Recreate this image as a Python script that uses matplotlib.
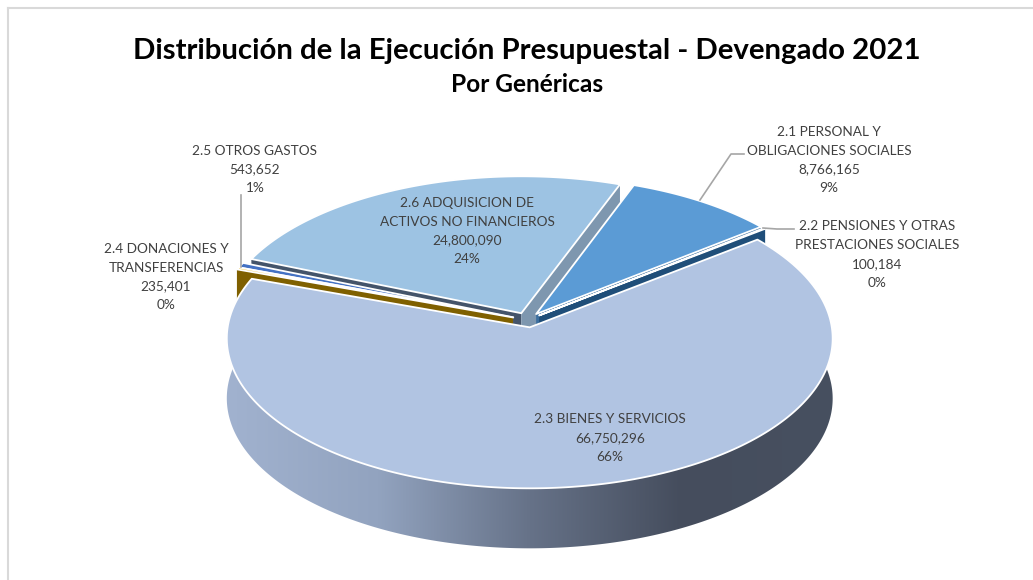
import numpy as np
import matplotlib
matplotlib.use("Agg")
import matplotlib.pyplot as plt
from matplotlib.colors import LinearSegmentedColormap
from matplotlib.patches import Polygon

plt.rcParams["font.family"] = ["Lato", "DejaVu Sans"]

names = ["2.1 PERSONAL Y\nOBLIGACIONES SOCIALES", "2.2 PENSIONES Y OTRAS\nPRESTACIONES SOCIALES",
         "2.3 BIENES Y SERVICIOS", "2.4 DONACIONES Y\nTRANSFERENCIAS", "2.5 OTROS GASTOS",
         "2.6 ADQUISICION DE\nACTIVOS NO FINANCIEROS"]
values = [8766165, 100184, 66750296, 235401, 543652, 24800090]
percents = ["9%", "0%", "66%", "0%", "1%", "24%"]
top_colors = ["#5B9BD5", "#2E75B6", "#B1C4E2", "#F2C132", "#4472C4", "#9DC3E3"]
wall_colors = ["#3B6E9E", "#1F4E79", "#7A8AA5", "#7F6000", "#3A5FA8", "#44546A"]
wall_colors_end = ["#3B6E9E", "#1F4E79", "#7A8AA5", "#7F6000", "#3A5FA8", "#7E97AF"]

title = "Distribución de la Ejecución Presupuestal - Devengado 2021"
subtitle = "Por Genéricas"

START = 20.5
EXPLODE = 0.05
CX, CY, RX, RY, K, DEPTH = 527.3, 320, 301, 148, 0.0737, 60

label_pos = [(829, 160), (877, 254.5), (610, 438), (166, 277), (255, 169.5), (467, 231)]

fig = plt.figure(figsize=(10.33, 5.8), dpi=100)
ax = fig.add_axes([0, 0, 1, 1])


def proj(x, y, z=0):
    s = 1 / (1 + K * y)
    return CX + RX * x * s, CY - RY * y * s + z * DEPTH


def arc(a, b, ox, oy, z=0):
    th = np.radians(np.linspace(a, b, max(int(abs(b - a)) * 2, 3)))
    return np.column_stack(proj(ox + np.sin(th), oy + np.cos(th), z))


def radial_wall(ang, ox, oy, color, zorder):
    x0, y0 = proj(ox, oy)
    x1, y1 = proj(ox + np.sin(np.radians(ang)), oy + np.cos(np.radians(ang)))
    x2, y2 = proj(ox + np.sin(np.radians(ang)), oy + np.cos(np.radians(ang)), 1)
    x3, y3 = proj(ox, oy, 1)
    ax.add_patch(Polygon([(x0, y0), (x1, y1), (x2, y2), (x3, y3)], closed=True,
                         fc=color, ec="none", zorder=zorder))


shares = np.array(values) / sum(values) * 360
starts = START + np.concatenate([[0], np.cumsum(shares)[:-1]])
ends = starts + shares

# far slices first, the big one goes on top
order = [5, 4, 3, 0, 1, 2]
z = 2
for i in order:
    a, b = starts[i], ends[i]
    mid = np.radians((a + b) / 2)
    ox, oy = EXPLODE * np.sin(mid), EXPLODE * np.cos(mid)
    # radial faces that look at the viewer
    if np.cos(np.radians(a - 90)) < 0:
        radial_wall(a, ox, oy, wall_colors[i], z)
    if np.cos(np.radians(b + 90)) < 0:
        radial_wall(b, ox, oy, wall_colors_end[i], z)
    z += 1
    if i == 2:
        # outer wall with the left to right shading
        rim = np.vstack([arc(a, b, ox, oy), arc(a, b, ox, oy, 1)[::-1]])
        clip = Polygon(rim, closed=True, fc="none", ec="none", transform=ax.transData)
        ax.add_patch(clip)
        cmap = LinearSegmentedColormap.from_list(
            "rim", ["#A1B2CF", "#92A3BF", "#667288", "#454D5D", "#475060"])
        img = ax.imshow(np.linspace(0, 1, 256)[None, :], cmap=cmap, aspect="auto",
                        extent=(226, 834, 560, 230), zorder=z, interpolation="bilinear")
        img.set_clip_path(clip)
        z += 1
    top = np.vstack([[proj(ox, oy)], arc(a, b, ox, oy)])
    ax.add_patch(Polygon(top, closed=True, fc=top_colors[i], ec="white", lw=1.3,
                         joinstyle="round", zorder=z))
    z += 1

# leader lines
lead_color = "#A6A6A6"
ax.plot([700, 731, 744], [200, 154, 154], color=lead_color, lw=1.2, zorder=30)
ax.plot([763, 777, 794], [228, 229, 229], color=lead_color, lw=1.2, zorder=30)
ax.plot([241, 241], [195, 267], color=lead_color, lw=1.2, zorder=30)

# outer frame of the chart
ax.plot([8, 8], [580, 8], color="#D9D9D9", lw=1.5, zorder=1)
ax.plot([8, 1033], [8, 8], color="#D9D9D9", lw=1.5, zorder=1)

for name, val, pct, (lx, ly) in zip(names, values, percents, label_pos):
    ax.text(lx, ly, f"{name}\n{val:,}\n{pct}", ha="center", va="center", fontsize=9.8,
            color="#404040", linespacing=1.68, zorder=40)

ax.text(527, 51, title, ha="center", va="center", fontsize=21.2, fontweight="bold", color="black")
ax.text(527, 85, subtitle, ha="center", va="center", fontsize=17.6, fontweight="bold", color="black")

ax.set_xlim(0, 1033)
ax.set_ylim(580, 0)
ax.axis("off")

fig.savefig("out.png", dpi=100)
